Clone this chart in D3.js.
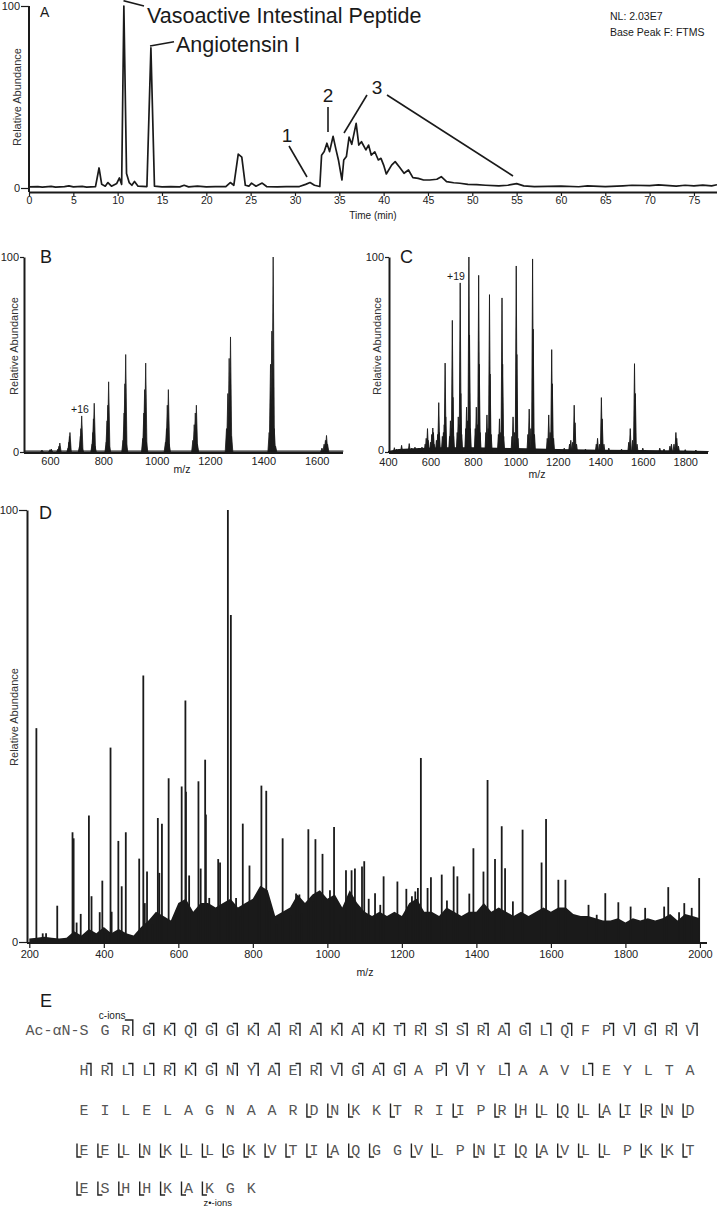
<!DOCTYPE html>
<html>
<head>
<meta charset="utf-8">
<script src="https://cdn.jsdelivr.net/npm/d3@7"></script>
<style>
  body { margin: 0; background: #fff; }
  text { font-family: Arial, "Liberation Sans", sans-serif; }
</style>
</head>
<body>
<div id="wrapper"></div>
<script>
// 1. Data

// A: base peak chromatogram, [time (min), relative abundance]
const chromA = [
  [0,0.6],[1,0.8],[1.5,0.5],[2.5,0.9],[3,0.5],[4,0.8],[4.5,1.2],[5,0.6],[6,0.9],[6.5,0.5],[7.5,0.8],
  [7.9,11],[8.2,2],[8.6,1],[8.9,3],[9.3,1],[9.9,2.5],[10.2,5.5],[10.45,2],[10.7,100],[11.0,8],[11.3,3],
  [11.6,1.5],[11.9,3.6],[12.3,1],[13.3,0.8],[13.75,77],[14.15,1],[15,0.6],[16,0.8],[17,0.6],[17.5,1.5],
  [18,0.6],[19,1],[20,0.6],[21,0.8],[22.2,0.8],[22.7,3],[23.1,1.5],[23.6,18.6],[24,17],[24.4,1.5],
  [24.8,1],[25.1,2.7],[25.6,1],[26.3,2.7],[26.8,0.8],[28,0.6],[29,0.8],[30.5,0.8],[31.2,2],[31.7,3],
  [32.2,1.5],[32.8,0.8],[33.0,18],[33.3,20],[33.6,24.6],[33.9,20],[34.3,28.4],[34.6,21.6],[34.9,15.4],
  [35.3,4.4],[35.5,15.4],[35.8,17.3],[36.1,28],[36.4,24],[36.9,35.5],[37.2,23.6],[37.5,25.4],[38.0,20.9],
  [38.3,23.6],[38.6,18.1],[39.0,19.9],[39.4,15.4],[39.7,16.3],[40.0,12.6],[40.3,7.7],[40.9,12.6],
  [41.3,14.5],[41.8,11.4],[42.3,8.1],[42.8,9.9],[43.3,5.7],[43.9,5.3],[44.5,4.4],[45.2,4.4],[46.0,4.8],
  [46.5,6.2],[47.1,3.5],[47.9,2.9],[48.6,2.6],[49.5,2],[50.5,1.8],[51.5,1.5],[53,1.2],[54,1.5],[55,2.4],
  [55.8,1.2],[57,0.8],[60,1],[62,0.7],[63,1.2],[65,0.8],[67,1.2],[68,1.5],[70,1.3],[71,1.7],[73,1],
  [74,1.5],[75,1.2],[76,1.6],[77,1.2],[77.6,1.8]
]
const ticksA = [0,5,10,15,20,25,30,35,40,45,50,55,60,65,70,75]

// B: MS1 spectrum, [m/z, relative abundance]
const peaksB = [
  [570,1],[600,1.2],[605,1.5],
  [630,1.5],[634,3],[637,4.6],
  [668,2],[671,5],[673,8],[675,10],
  [711,3],[714,8],[716,12],[719,18.5],[721,2],
  [758,4],[761,10],[763,17],[766,25],[769,3],
  [811,5],[814,16],[817,24],[820,36],[823,3],
  [874,6],[878,20],[881,35],[884,50],[887,4],
  [948,7],[952,20],[955,32],[959,45.6],[962,5],
  [1033,5],[1037,12],[1040,24],[1044,32],[1047,4],
  [1136,6],[1141,14],[1145,20],[1149,24],[1153,4],
  [1262,12],[1267,30],[1272,48],[1277,59],[1281,8],
  [1422,10],[1427,45],[1432,62],[1437,100],[1441,12],[1446,3],
  [1620,2],[1628,4],[1633,6],[1637,8.5],[1641,4]
]
const floorB = [[505,0.4],[900,0.5],[1300,0.4],[1700,0.4]]
const ticksB = [600,800,1000,1200,1400,1600]

// C: MS1 spectrum, [m/z, relative abundance]
const peaksC = [
  [430,2.2],[440,1.5],[464,3.4],[475,1.5],[500,4.3],[512,2],[527,2.5],[545,2],[560,2.5],
  [575,4],[580,7],[586,12],[589,6],
  [600,5],[606,9],[611,12.3],[614,10],[617,4],
  [628,6],[634,9],[639,25.3],[642,10],
  [656,8],[661,10],[665,14],[669,45.6],[672,18],
  [690,8],[694,16],[699,12],[703,67.5],[706,28],[709,8],
  [726,10],[731,18],[736,14],[740,86.7],[743,30],[747,9],
  [766,12],[770,23],[775,16],[781,100],[784,60],[788,12],
  [811,12],[816,23],[821,14],[827,90.6],[830,45],[834,10],
  [861,10],[866,19],[872,12],[878,80.7],[881,40],[886,9],
  [920,9],[925,17],[931,10],[937,79],[940,45],[945,8],
  [984,8],[989,18],[996,10],[1004,95.4],[1007,50],[1012,7],
  [1059,9],[1065,22],[1073,12],[1081,99],[1084,63],[1090,9],
  [1150,7],[1157,19],[1164,10],[1171,52.5],[1174,35],[1180,7],
  [1200,1.5],[1230,2],
  [1255,4],[1261,6],[1270,5],[1277,24],[1281,15],[1288,4],
  [1330,1.5],
  [1381,4],[1387,7],[1397,4],[1405,27.9],[1409,17],[1417,4],
  [1440,2],[1500,1.5],
  [1534,5],[1541,12],[1552,6],[1561,45.3],[1565,30],[1573,4],
  [1600,2],[1680,2],[1700,1.5],
  [1728,3],[1735,4],[1747,4],[1756,10],[1760,7],[1768,3],
  [1800,1.2],[1850,1]
]
const floorC = [[400,0.5],[450,1.5],[550,2],[650,2.5],[800,2.5],[1000,2],[1200,1.5],[1400,1.2],[1600,1],[1800,0.8],[1910,0.5]]
const ticksC = [400,600,800,1000,1200,1400,1600,1800]

// D: MS/MS spectrum, [m/z, relative abundance]
const peaksD = [
  [219,49.5],[236,2],[245,2],[275,8.4],[316,25.4],[319,24],[327,4.5],[338,6.5],[360,29.3],[367,10.6],
  [389,6.9],[396,14.2],[405,2],[418,45],[421,7],[439,23.4],[448,12.9],[459,25.4],[495,19.3],[506,61.7],
  [510,9],[516,16.3],[530,4],[545,28.7],[549,16],[556,27.4],[574,37.9],[596,6],[609,36],[619,55.9],
  [620.5,34.8],[629,15.4],[654,37.2],[660,17],[672,42.2],[674,29.5],[683,10.2],[707,19.2],[712,18.4],
  [733,100],[741,75.7],[755,10.2],[766,5.8],[773,27.4],[791,17.7],[811,10.6],[818,11],[823,36.2],
  [836,35],[845,7],[864,4],[880,24],[902,6.2],[916,11.2],[925,11],[931,6.5],[949,26.1],[962,9.4],
  [968,23.8],[987,20.4],[1007,12],[1018,26.6],[1034,4],[1050,16.6],[1065,16.6],[1074,17],
  [1093,17.5],[1099,18.7],[1111,10],[1128,11.3],[1142,8.6],[1151,15.2],[1188,14],[1212,12.3],
  [1227,10.6],[1236,11.7],[1243,12.5],[1251,42.6],[1269,12.5],[1278,15],[1307,15.6],[1321,9.6],
  [1339,17.5],[1349,15.2],[1381,11.2],[1392,21.7],[1419,16.3],[1430,37.5],[1450,19.2],[1468,26.8],
  [1477,17.1],[1498,9.4],[1524,26],[1575,18.4],[1587,28.5],[1620,14.4],[1639,14.4],[1701,8.6],
  [1723,6.3],[1746,11.3],[1781,9.2],[1814,8.2],[1853,7.9],[1904,8.2],[1915,12.7],[1944,6.9],
  [1958,9],[1978,7.9],[1998,14.8]
]
// dense low-level signal under the labelled peaks
const floorD = [
  [200,0.8],[220,1],[240,1.2],[260,1],[280,0.8],[300,1],[320,2.5],[340,1.5],[360,3],[380,2],[400,3.5],
  [420,2],[440,3],[460,2],[480,1.5],[500,3.5],[520,5],[540,7],[560,6],[580,5],[600,9],[620,10],
  [640,7],[660,9],[680,9],[700,8],[720,9],[740,10],[760,8],[780,9],[800,10],[820,13],[840,12],[860,6],
  [880,7],[900,8],[920,11],[940,9],[960,11],[980,12],[1000,10],[1020,11],[1040,8],[1060,12],[1080,9],
  [1100,7],[1120,6],[1140,7],[1160,6],[1180,7],[1200,6],[1220,9],[1240,10],[1260,7],[1280,7],[1300,6],
  [1320,8],[1340,7],[1360,6],[1380,7],[1400,7],[1420,9],[1440,7],[1460,8],[1480,7],[1500,6],[1520,7],
  [1540,6],[1560,7],[1580,8],[1600,7],[1620,8],[1640,8],[1660,6.5],[1680,6],[1700,6],[1720,5.5],
  [1740,5],[1760,5],[1780,5.5],[1800,4.5],[1820,5.5],[1840,5],[1860,5.5],[1880,5],[1900,5.5],[1920,6.5],
  [1940,5],[1960,6.5],[1980,6],[2000,5.5]
]
const ticksD = [200,400,600,800,1000,1200,1400,1600,1800,2000]

// E: sequence with fragment sites (residue numbers, S = 1)
const seqRows = [
  "SGRGKQGGKARAKAKTRSSRAGLQFPVGRV",
  "HRLLRKGNYAERVGAGAPVYLAAVLEYLTA",
  "EILELAGNAARDNKKTRIIPRHLQLAIRND",
  "EELNKLLGKVTIAQGGVLPNIQAVLLPKKT",
  "ESHHKAKGK"
]
const cSites = [3,4,5,6,7,8,9,10,11,12,13,14,15,16,17,18,19,20,21,22,23,24,26,27,28,29,30,
  31,32,33,34,35,36,37,38,39,40,41,42,43,44,45,46,48,49,51,55]
const zSites = [72,73,74,76,79,81,82,83,84,85,86,87,88,89,90,
  91,92,93,94,95,96,97,98,99,100,101,102,103,104,105,107,108,110,111,112,113,114,115,116,118,119,120,
  121,122,123,124,125,126,127]

// 2. Canvas
const svg = d3.select("#wrapper").append("svg")
  .attr("width", 717).attr("height", 1208)

const ink = "#1a1a1a"
const fmt = d3.format("d")

function stick(x, y, base, w) {
  return `M${x - w},${base}L${x},${y}L${x + w},${base}Z`
}

function yAxisOf(yScale, x, tick) {
  const g = svg.append("g").attr("transform", `translate(${x},0)`)
    .call(d3.axisLeft(yScale).tickValues([0, 100]).tickSize(tick).tickSizeOuter(0).tickPadding(1))
  g.select(".domain").attr("stroke", ink).attr("stroke-width", 2)
  g.selectAll(".tick line").attr("stroke", ink).attr("stroke-width", 1.2)
  g.selectAll("text").style("font-size", "11px").attr("fill", "#222")
  return g
}

function xAxisOf(xScale, y, ticks, tickLen, pad, size = 11) {
  const g = svg.append("g").attr("transform", `translate(0,${y})`)
    .call(d3.axisBottom(xScale).tickValues(ticks).tickFormat(fmt)
      .tickSize(tickLen).tickSizeOuter(0).tickPadding(pad))
  g.select(".domain").attr("stroke", ink).attr("stroke-width", 2)
  g.selectAll(".tick line").attr("stroke", ink).attr("stroke-width", 1.2)
  g.selectAll("text").style("font-size", size + "px").attr("fill", "#222")
  return g
}

function label(x, y, txt, size, opts = {}) {
  return svg.append("text").attr("x", x).attr("y", y).text(txt)
    .style("font-size", size + "px").attr("fill", opts.fill || ink)
    .attr("text-anchor", opts.anchor || "start")
}

function yTitle(x, y) {
  svg.append("text").attr("transform", `translate(${x},${y}) rotate(-90)`)
    .attr("text-anchor", "middle").attr("dy", "0.35em")
    .style("font-size", "11px").attr("fill", "#333").text("Relative Abundance")
}

// 3. Panel A
const xA = d3.scaleLinear().domain([0, 77.6]).range([29, 717])
const yA = d3.scaleLinear().domain([0, 100]).range([188, 6])

svg.append("path").datum(chromA)
  .attr("d", d3.line().x(d => xA(d[0])).y(d => yA(d[1])))
  .attr("fill", "none").attr("stroke", ink).attr("stroke-width", 1.7).attr("stroke-linejoin", "round")

yAxisOf(yA, 29, 8).select(".domain").attr("d", "M0,6V192")
xAxisOf(xA, 192, ticksA, 4, 1, 10.5)
label(xA(38.8), 219, "Time (min)", 10, { anchor: "middle" })
yTitle(17.5, 97)
label(40, 17, "A", 14)
label(610, 20, "NL: 2.03E7", 10.5)
label(610, 36, "Base Peak F: FTMS", 10.5)
label(147, 23, "Vasoactive Intestinal Peptide", 21.5)
label(176, 52, "Angiotensin I", 21.5)
label(287, 142, "1", 19, { anchor: "middle" })
label(328, 102, "2", 19, { anchor: "middle" })
label(377, 94, "3", 19, { anchor: "middle" })

const leaders = [
  [[123.5, 0.7], [144, 6]],
  [[150, 46], [174, 41.7]],
  [[289, 146], [307, 177]],
  [[328, 107], [328, 132]],
  [[367, 95], [344, 133]],
  [[387, 95], [513, 176]]
]
svg.append("g").selectAll("path").data(leaders).join("path")
  .attr("d", d => d3.line()(d))
  .attr("stroke", ink).attr("stroke-width", 1.6).attr("fill", "none")

// 4. Panel B
const xB = d3.scaleLinear().domain([500, 1700]).range([23.3, 343.3])
const yB = d3.scaleLinear().domain([0, 100]).range([452, 257])

svg.append("path").datum(floorB)
  .attr("d", d3.line().x(d => xB(d[0])).y(d => yB(d[1])))
  .attr("fill", "none").attr("stroke", ink).attr("stroke-width", 1.2)
svg.append("g").selectAll("path").data(peaksB).join("path")
  .attr("d", d => stick(xB(d[0]), yB(d[1]), yB(0), 1.3))
  .attr("fill", ink).attr("stroke", ink).attr("stroke-width", 0.8).attr("stroke-linejoin", "round")

yAxisOf(yB, 24, 4)
xAxisOf(xB, 453, ticksB, 0, 4).select(".domain").attr("d", "M24,0H343")
label(182, 473, "m/z", 10.5, { anchor: "middle" })
yTitle(14, 346)
label(40, 263, "B", 18)
label(80, 413, "+16", 10.5, { anchor: "middle" })

// 5. Panel C
const xC = d3.scaleLinear().domain([400, 1910]).range([388, 708.6])
const yC = d3.scaleLinear().domain([0, 100]).range([452, 257])

svg.append("path").datum(floorC)
  .attr("d", d3.area().x(d => xC(d[0])).y0(yC(0)).y1(d => yC(d[1])))
  .attr("fill", ink)
svg.append("g").selectAll("path").data(peaksC).join("path")
  .attr("d", d => stick(xC(d[0]), yC(d[1]), yC(0), 1.0))
  .attr("fill", ink).attr("stroke", ink).attr("stroke-width", 0.9).attr("stroke-linejoin", "round")

const axC = yAxisOf(yC, 389, 4)
axC.selectAll("text").filter(d => d === 0).attr("dy", "0.1em")
xAxisOf(xC, 453, ticksC, 0, 5).select(".domain").attr("d", "M389,0H708")
label(537, 478, "m/z", 10.5, { anchor: "middle" })
yTitle(377.5, 346)
label(400, 263, "C", 18)
label(456, 280, "+19", 10.5, { anchor: "middle" })

// 6. Panel D
const xD = d3.scaleLinear().domain([200, 2019]).range([29.3, 707])
const yD = d3.scaleLinear().domain([0, 100]).range([942, 510])

svg.append("path").datum(floorD)
  .attr("d", d3.area().x(d => xD(d[0])).y0(yD(0)).y1(d => yD(d[1])))
  .attr("fill", ink)
svg.append("g").selectAll("line").data(peaksD).join("line")
  .attr("x1", d => xD(d[0])).attr("x2", d => xD(d[0]))
  .attr("y1", yD(0)).attr("y2", d => yD(d[1]))
  .attr("stroke", ink).attr("stroke-width", 1.8)

yAxisOf(yD, 27, 8)
xAxisOf(xD, 943, ticksD, 5, 2).select(".domain").attr("d", "M27,0H707")
label(365, 976, "m/z", 10.5, { anchor: "middle" })
yTitle(14, 717)
label(39, 519, "D", 18)

// 7. Panel E: fragment map
label(40, 1007, "E", 18)

const seqX0 = 84, pitch = 20.9, rowY = [1035, 1075, 1115, 1155, 1193]
const residues = []
seqRows.forEach((row, r) => {
  row.split("").forEach((aa, c) => {
    residues.push({ aa, n: residues.length + 1, x: seqX0 + c * pitch, y: rowY[r] })
  })
})

const seqFont = "'Liberation Mono', 'Courier New', monospace"
svg.append("text").attr("x", seqX0 - 4.5).attr("y", rowY[0]).attr("text-anchor", "end")
  .style("font-family", seqFont).style("font-size", "15px").attr("fill", "#555").text("Ac-\u03b1N-")
svg.append("g").selectAll("text").data(residues).join("text")
  .attr("x", d => d.x).attr("y", d => d.y).attr("text-anchor", "middle")
  .style("font-family", seqFont).style("font-size", "15px").attr("fill", "#555")
  .text(d => d.aa)

const byNum = new Map(residues.map(d => [d.n, d]))
// c-ion: corner after the residue; z-ion: corner before the residue
const cPath = d => d.n === cSites[0]
  ? `M${d.x - 1},${d.y - 15}H${d.x + 7}V${d.y + 1}`
  : `M${d.x + 2.5},${d.y - 11.5}H${d.x + 7}V${d.y + 1}`
const zPath = d => `M${d.x - 7},${d.y - 11.5}V${d.y + 2}H${d.x - 2.5}`

svg.append("g").selectAll("path").data(cSites.map(n => byNum.get(n))).join("path")
  .attr("d", cPath).attr("fill", "none").attr("stroke", "#222").attr("stroke-width", 1.4)
svg.append("g").selectAll("path").data(zSites.map(n => byNum.get(n))).join("path")
  .attr("d", zPath).attr("fill", "none").attr("stroke", "#222").attr("stroke-width", 1.4)

const firstC = byNum.get(cSites[0])
label(firstC.x - 27, rowY[0] - 16, "c-ions", 10)
const lastZ = byNum.get(zSites[zSites.length - 1])
label(lastZ.x - 6, rowY[4] + 12.5, "z\u2022-ions", 9.5)
</script>
</body>
</html>
